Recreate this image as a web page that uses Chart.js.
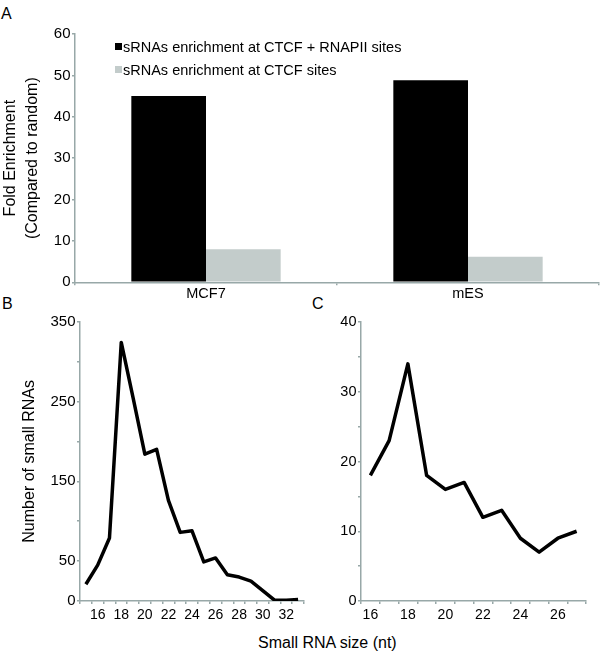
<!DOCTYPE html>
<html>
<head>
<meta charset="utf-8">
<script src="https://cdn.jsdelivr.net/npm/chart.js@4.4.1/dist/chart.umd.min.js"></script>
<style>
  body { margin: 0; width: 600px; height: 659px; background: #fff; position: relative; overflow: hidden;
         font-family: Arial, "Liberation Sans", sans-serif; color: #000; }
  canvas { position: absolute; }
  .txt { position: absolute; line-height: 1; white-space: nowrap; }
  .letter { font-size: 16px; }
  .legend-text { font-size: 14.5px; }
  .swatch { position: absolute; width: 7px; height: 7px; }
</style>
</head>
<body>

<div class="txt letter" style="left:1px;top:6px">A</div>
<div class="txt letter" style="left:2px;top:296px">B</div>
<div class="txt letter" style="left:312px;top:296px">C</div>

<canvas id="chart-a" width="600" height="300" style="left:0;top:0"></canvas>
<canvas id="chart-b" width="310" height="325" style="left:0;top:300px"></canvas>
<canvas id="chart-c" width="300" height="325" style="left:300px;top:300px"></canvas>

<!-- パネルAの凡例（グラフ領域の内側） -->
<div class="swatch" style="left:115px;top:43px;background:#000"></div>
<div class="txt legend-text" style="left:123px;top:40px">sRNAs enrichment at CTCF + RNAPII sites</div>
<div class="swatch" style="left:115px;top:66px;background:#c3cccb"></div>
<div class="txt legend-text" style="left:123px;top:63px">sRNAs enrichment at CTCF sites</div>

<div class="txt" style="left:258px;top:635px;font-size:16px">Small RNA size (nt)</div>

<script>
// パネルA: 濃縮度
const aCategories = ['MCF7', 'mES'];
const aSeriesLabels = ['sRNAs enrichment at CTCF + RNAPII sites', 'sRNAs enrichment at CTCF sites'];
const aCtcfRnapii = [45, 48.8];
const aCtcfOnly = [8, 6.2];

// パネルB: サイズ分布
const bCategories = ['15', '16', '17', '18', '19', '20', '21', '22', '23', '24', '25', '26', '27', '28', '29', '30', '31', '32', '33'];
const bCounts = [21, 45, 79, 324, 255, 184, 190, 126, 86, 88, 49, 54, 33, 30, 25, 13, 1, 1, 2];
const bXTickLabels = ['16', '18', '20', '22', '24', '26', '28', '30', '32'];
const bYTickLabels = [0, 50, 150, 250, 350];

// パネルC: サイズ分布
const cCategories = ['16', '17', '18', '19', '20', '21', '22', '23', '24', '25', '26', '27'];
const cCounts = [18, 23, 34, 18, 16, 17, 12, 13, 9, 7, 9, 10];
const cXTickLabels = ['16', '18', '20', '22', '24', '26'];
const cYTickLabels = [0, 10, 20, 30, 40];

const colors = {
  black: '#000000',
  grey: '#c3cccb',
  axis: '#98a8a8',
  text: '#000000'
};

Chart.defaults.font.family = 'Arial, "Liberation Sans", sans-serif';
Chart.defaults.color = colors.text;
Chart.defaults.animation = false;

// 軸の共通スタイル（グリッドなし、外向きの短い目盛り）
function axisStyle(extra) {
  return Object.assign({
    border: { color: colors.axis, width: 1.5 },
    grid: { drawOnChartArea: false, drawTicks: true, tickLength: 3, color: colors.axis, lineWidth: 1.5 }
  }, extra);
}

const basePlugins = { legend: { display: false }, tooltip: { enabled: false } };

// パネルA
new Chart(document.getElementById('chart-a'), {
  type: 'bar',
  data: {
    labels: aCategories,
    datasets: [
      { label: aSeriesLabels[0], data: aCtcfRnapii, backgroundColor: colors.black, borderWidth: 0 },
      { label: aSeriesLabels[1], data: aCtcfOnly, backgroundColor: colors.grey, borderWidth: 0 }
    ]
  },
  options: {
    responsive: false,
    layout: { padding: { top: 34, right: 1, left: 0, bottom: 0 } },
    datasets: { bar: { categoryPercentage: 0.57, barPercentage: 1.0 } },
    plugins: basePlugins,
    scales: {
      x: axisStyle({
        ticks: { font: { size: 14.5 }, padding: 0, color: colors.text },
        afterFit: (scale) => { scale.height = 17.7; }
      }),
      y: axisStyle({
        min: 0,
        max: 60,
        ticks: { stepSize: 10, font: { size: 15 }, padding: 1.5, color: colors.text },
        title: {
          display: true,
          text: ['Fold Enrichment', '(Compared to random)'],
          font: { size: 16, lineHeight: 1.35 },
          padding: 0,
          color: colors.text
        },
        afterFit: (scale) => { scale.width = 75; }
      })
    }
  }
});

// 折れ線パネルの共通設定
function lineOptions(cfg) {
  return {
    responsive: false,
    layout: { padding: cfg.padding },
    plugins: basePlugins,
    elements: { point: { radius: 0 }, line: { tension: 0, borderJoinStyle: 'round' } },
    scales: {
      x: axisStyle({
        offset: true,
        grid: { drawOnChartArea: false, drawTicks: true, tickLength: 3, color: colors.axis, lineWidth: 1.5, offset: true },
        ticks: {
          autoSkip: false,
          maxRotation: 0,
          font: { size: 14 },
          padding: 3,
          color: colors.text,
          callback: function (value) {
            const label = this.getLabelForValue(value);
            return cfg.xTickLabels.includes(label) ? label : '';
          }
        },
        afterFit: (scale) => { scale.height = cfg.xHeight; }
      }),
      y: axisStyle({
        min: 0,
        max: cfg.yMax,
        ticks: {
          stepSize: cfg.yStep,
          font: { size: cfg.yFontSize },
          padding: 1.5,
          color: colors.text,
          callback: (value) => cfg.yTickLabels.includes(value) ? value : ''
        },
        title: cfg.yTitle ? {
          display: true,
          text: cfg.yTitle,
          font: { size: 16 },
          padding: { top: 20, bottom: 0 },
          color: colors.text
        } : { display: false },
        afterFit: (scale) => { scale.width = cfg.yWidth; }
      })
    }
  };
}

// パネルB
new Chart(document.getElementById('chart-b'), {
  type: 'line',
  data: {
    labels: bCategories,
    datasets: [{ data: bCounts, borderColor: colors.black, borderWidth: 3.5, fill: false }]
  },
  options: lineOptions({
    padding: { top: 21.7, right: 6, left: 0, bottom: 0 },
    xTickLabels: bXTickLabels,
    yTickLabels: bYTickLabels,
    xHeight: 24,
    yWidth: 80,
    yMax: 350,
    yStep: 50,
    yFontSize: 15,
    yTitle: 'Number of small RNAs'
  })
});

// パネルC
new Chart(document.getElementById('chart-c'), {
  type: 'line',
  data: {
    labels: cCategories,
    datasets: [{ data: cCounts, borderColor: colors.black, borderWidth: 3.5, fill: false }]
  },
  options: lineOptions({
    padding: { top: 22, right: 14, left: 0, bottom: 0 },
    xTickLabels: cXTickLabels,
    yTickLabels: cYTickLabels,
    xHeight: 24,
    yWidth: 61,
    yMax: 40,
    yStep: 5,
    yFontSize: 14.5,
    yTitle: null
  })
});
</script>
</body>
</html>
